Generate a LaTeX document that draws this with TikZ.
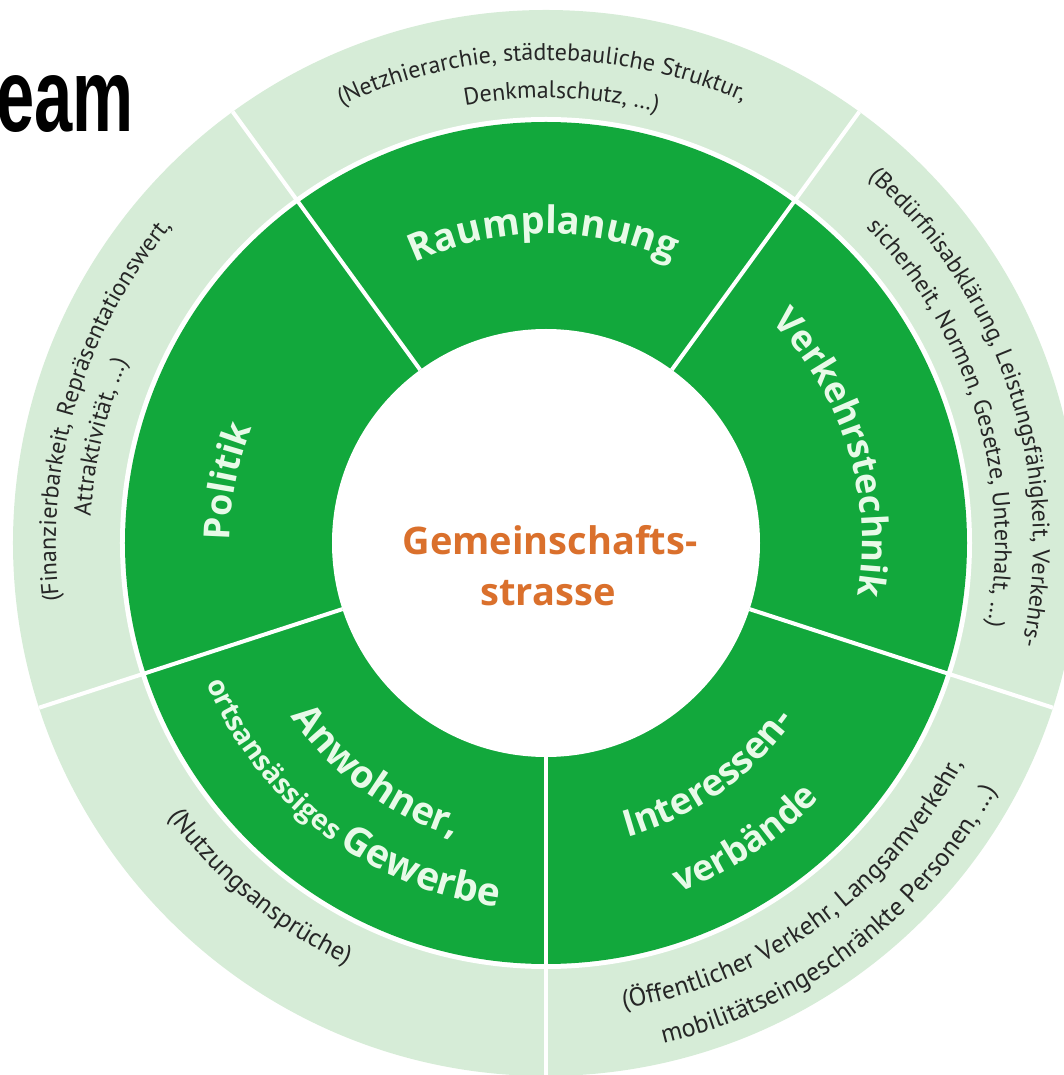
\documentclass[tikz,border=0pt]{standalone}
\usepackage{fontspec}
\setmainfont{Open Sans}
\newfontfamily\ptsans{PT Sans}
\newfontfamily\arialsans{Liberation Sans}
\usetikzlibrary{decorations.text}

\definecolor{darkgreen}{RGB}{18,168,60}
\definecolor{lightgreen}{RGB}{214,236,215}
\definecolor{labwhite}{RGB}{232,250,232}
\definecolor{midorange}{RGB}{218,112,44}
\definecolor{notegray}{RGB}{38,38,38}

\newcommand{\labfont}[1]{\fontsize{#1}{#1}\selectfont\bfseries}
\newcommand{\notefont}[1]{\ptsans\fontsize{#1}{#1}\selectfont}

\begin{document}
\begin{tikzpicture}[x=1pt, y=1pt,
    labtext/.style={decorate, decoration={text along path, text align=center, text color=labwhite, text={#1}}},
    notetext/.style={decorate, decoration={text along path, text align=center, text color=notegray, text={#1}}}]
    \useasboundingbox (-546,-532) rectangle (518,543);

    \fill[lightgreen] (0,0) circle[radius=533];
    \fill[white] (0,0) circle[radius=426];
    \fill[darkgreen] (0,0) circle[radius=421];
    \fill[white] (0,0) circle[radius=214];

    \draw[white, line width=4] (54:214) -- (54:533);
    \draw[white, line width=4] (126:214) -- (126:533);
    \draw[white, line width=4] (198:214) -- (198:533);
    \draw[white, line width=4] (270:214) -- (270:533);
    \draw[white, line width=4] (342:214) -- (342:533);

    \node[font=\arialsans\bfseries\fontsize{104}{104}\selectfont, anchor=base east, inner sep=0] (team) at (-412,411) {\scalebox{0.66}[1]{eam}};

    \path[labtext={|\labfont{38}|Raumplanung}] (130.5:309) arc[start angle=130.5, end angle=50.5, radius=309];
    \path[labtext={|\labfont{36}|Verkehrstechnik}] (62:316) arc[start angle=62, end angle=-27, radius=316];
    \path[labtext={|\labfont{36}|Politik}] (209:316) arc[start angle=209, end angle=129, radius=316];
    \path[labtext={|\labfont{38}|Anwohner,}] (193.5:308) arc[start angle=193.5, end angle=273.5, radius=308];
    \path[labtext={|\labfont{28}|ortsansässiges |\labfont{39}|Gewerbe}] (187:367) arc[start angle=187, end angle=278, radius=367];
    \path[labtext={|\labfont{37}|Interessen-}] (265:305) arc[start angle=265, end angle=345, radius=305];
    \path[labtext={|\labfont{36}|verbände}] (264:374) arc[start angle=264, end angle=344, radius=374];

    \node[font=\labfont{38}, text=midorange, anchor=base, inner sep=0] (gem) at (4,-12) {Gemeinschafts-};
    \node[font=\labfont{38}, text=midorange, anchor=base, inner sep=0] (str) at (2,-63) {strasse};

    \path[notetext={|\notefont{24}|(Netzhierarchie, städtebauliche Struktur,}] (135.5:483) arc[start angle=135.5, end angle=45.5, radius=483];
    \path[notetext={|\notefont{24}|Denkmalschutz, …)}] (133:445) arc[start angle=133, end angle=43, radius=445];
    \path[notetext={|\notefont{24}|(Bedürfnisabklärung, Leistungsfähigkeit, Verkehrs-}] (63.2:487) arc[start angle=63.2, end angle=-26.8, radius=487];
    \path[notetext={|\notefont{24}|sicherheit, Normen, Gesetze, Unterhalt, …)}] (62:449) arc[start angle=62, end angle=-28, radius=449];
    \path[notetext={|\notefont{24}|(Finanzierbarkeit, Repräsentationswert,}] (208.3:490) arc[start angle=208.3, end angle=118.3, radius=490];
    \path[notetext={|\notefont{24}|Attraktivität, …)}] (211.6:456) arc[start angle=211.6, end angle=121.6, radius=456];
    \path[notetext={|\notefont{26}|(Nutzungsansprüche)}] (185.3:466) arc[start angle=185.3, end angle=275.3, radius=466];
    \path[notetext={|\notefont{26}|(Öffentlicher Verkehr, Langsamverkehr,}] (260.8:472) arc[start angle=260.8, end angle=350.8, radius=472];
    \path[notetext={|\notefont{26}|mobilitätseingeschränkte Personen, …)}] (262.2:514) arc[start angle=262.2, end angle=352.2, radius=514];
\end{tikzpicture}
\end{document}
